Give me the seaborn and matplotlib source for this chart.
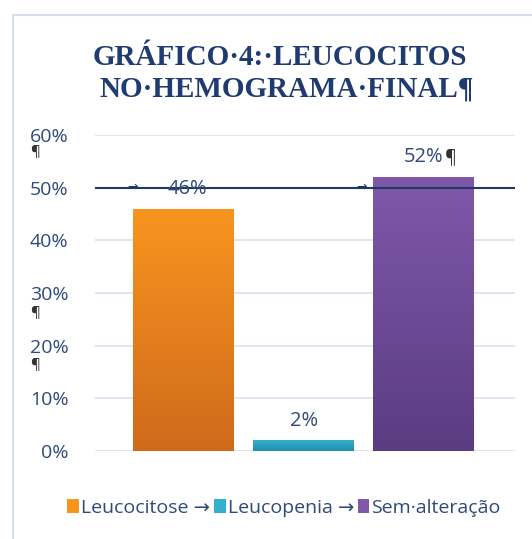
import numpy as np
import matplotlib
matplotlib.use("Agg")
import matplotlib.pyplot as plt
import matplotlib.colors as mcolors
from matplotlib.patches import Patch, Rectangle
import seaborn as sns

# -------------------- DATA --------------------
categorias = ["Leucocitose", "Leucopenia", "Sem·alteração"]
valores = [0.46, 0.02, 0.52]
rotulos = ["46%", "2%", "52%"]
yticks = [0.0, 0.1, 0.2, 0.3, 0.4, 0.5, 0.6]
ytick_labels = ["0%", "10%", "20%", "30%", "40%", "50%", "60%"]

# gradient colours per bar (top, bottom)
cores_topo = ["#F8951F", "#33B0CC", "#8058AA"]
cores_base = ["#CF6A1C", "#1E90AE", "#5A3C82"]

azul_texto = "#2F4A7A"
azul_titulo = "#1F3B70"

# -------------------- FIGURE --------------------
sns.set_theme(style="white")
plt.rcParams["font.family"] = ["Open Sans", "DejaVu Sans"]

fig = plt.figure(figsize=(5.32, 5.39), dpi=100)
fig.patch.set_facecolor("white")

# light frame around the chart object
fig.add_artist(Rectangle((0.0244, -0.1), 1.2, 1.072, transform=fig.transFigure,
                         fill=False, edgecolor="#D5DFEE", linewidth=1.5))

ax = fig.add_axes([95 / 532, 88 / 539, 420 / 532, 316 / 539])
sns.barplot(x=categorias, y=valores, hue=categorias, palette=cores_topo,
            legend=False, width=0.84, ax=ax, zorder=3)

ax.set_ylim(0, 0.6)
ax.set_xlim(-0.74, 2.76)
ax.set_yticks(yticks)
ax.set_yticklabels(ytick_labels, color=azul_texto, fontsize=14)
ax.tick_params(axis="y", left=False, pad=13)
ax.set_xticks([])
ax.set_xlabel("")
ax.set_ylabel("")
for s in ax.spines.values():
    s.set_visible(False)
ax.grid(axis="y", color="#D9E2F1", linewidth=1.2, zorder=0)
ax.set_axisbelow(True)

# gradient fill clipped to each bar
for patch, c1, c2 in zip(ax.patches, cores_topo, cores_base):
    x0, y0 = patch.get_x(), patch.get_y()
    w, h = patch.get_width(), patch.get_height()
    cmap = mcolors.LinearSegmentedColormap.from_list("g", [c2, c1])
    grad = np.linspace(0, 1, 256).reshape(-1, 1)
    im = ax.imshow(grad, cmap=cmap, aspect="auto", origin="lower",
                   extent=[x0, x0 + w, y0, y0 + h], zorder=3)
    im.set_clip_path(patch)
    patch.set_edgecolor("none")
ax.set_xlim(-0.74, 2.76)
ax.set_ylim(0, 0.6)

# dark line at 50% (formatting line from the document)
ax.axhline(0.5, color="#1F3864", linewidth=1.5, zorder=5)
ax.text(-0.425, 0.5, "→", color="#1F3864", fontsize=9, ha="center", va="center", zorder=6)
ax.text(1.48, 0.5, "→", color="#1F3864", fontsize=9, ha="center", va="center", zorder=6)

# data labels
ax.text(0.03, 0.497, rotulos[0], color=azul_texto, fontsize=14.5, ha="center", va="center", zorder=6)
ax.text(1.0, 0.057, rotulos[1], color=azul_texto, fontsize=14.5, ha="center", va="center", zorder=6)
ax.text(2.0, 0.558, rotulos[2], color=azul_texto, fontsize=14.5, ha="center", va="center", zorder=6)
ax.annotate("¶", (2.0, 0.558), xytext=(15, 0), textcoords="offset points",
            color="#333333", fontsize=13, ha="left", va="center")

# paragraph marks next to the axis labels
yax = ax.get_yaxis_transform()
for yv in [0.566, 0.262, 0.163]:
    ax.text(-0.155, yv, "¶", transform=yax, color="#333333", fontsize=11,
            ha="left", va="center")

# title
fig.text(0.526, 0.894, "GRÁFICO·4:·LEUCOCITOS", family="Liberation Serif",
         fontweight="bold", fontsize=21, color=azul_titulo, ha="center", va="center")
fig.text(0.538, 0.834, "NO·HEMOGRAMA·FINAL¶", family="Liberation Serif",
         fontweight="bold", fontsize=21, color=azul_titulo, ha="center", va="center")

# legend
handles = [Patch(facecolor=c, edgecolor="none") for c in cores_topo]
labels = [categorias[0] + " →", categorias[1] + " →", categorias[2]]
leg = fig.legend(handles, labels, loc="center", bbox_to_anchor=(0.534, 0.0575),
                 ncol=3, frameon=False, fontsize=14, handlelength=0.6,
                 handleheight=0.7, handletextpad=0.1, columnspacing=0.2)
for t in leg.get_texts():
    t.set_color(azul_texto)

fig.savefig("out.png", dpi=100, facecolor="white")
